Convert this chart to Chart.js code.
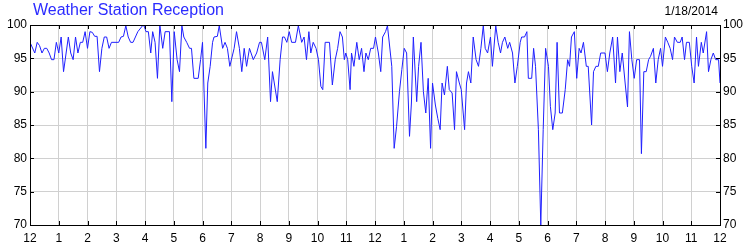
<!DOCTYPE html>
<html lang="en">
<head>
    <meta charset="UTF-8">
    <title>Weather Station Reception</title>
    <script src="https://cdn.jsdelivr.net/npm/chart.js"></script>
    <style>
        body { margin: 0; background: #fff; }
        #chart { display: block; }
    </style>
</head>
<body>
    <canvas id="chart" width="750" height="250"></canvas>
    <script>
        // minute of day for each reading
        const minutes = [
            0, 10, 15, 20, 25, 30, 35, 40, 45, 50, 55, 60, 65, 70, 80, 85, 90, 95, 100, 105,
            110, 115, 120, 125, 130, 135, 140, 145, 150, 155, 160, 165, 170, 185, 190, 195, 200, 205, 210, 215,
            225, 235, 238, 242, 247, 252, 256, 261, 266, 271, 277, 282, 291, 296, 301, 307, 312, 317, 321, 327,
            333, 337, 342, 351, 356, 360, 367, 371, 376, 381, 384, 391, 395, 402, 407, 412, 417, 426, 431, 437,
            442, 447, 452, 458, 466, 473, 479, 483, 490, 496, 502, 506, 516, 522, 527, 531, 536, 541, 546, 554,
            560, 567, 572, 577, 582, 586, 591, 597, 602, 607, 611, 616, 625, 631, 637, 642, 647, 652, 656, 659,
            663, 668, 671, 676, 682, 687, 692, 697, 701, 706, 711, 717, 721, 727, 732, 736, 742, 746, 755, 760,
            765, 771, 776, 781, 786, 792, 796, 800, 807, 811, 816, 821, 826, 831, 836, 840, 846, 851, 856, 860,
            865, 871, 875, 881, 886, 890, 896, 900, 907, 911, 915, 920, 925, 931, 936, 941, 946, 950, 955, 961,
            965, 972, 977, 982, 986, 991, 997, 1001, 1007, 1012, 1017, 1023, 1026, 1032, 1037, 1040, 1047, 1051, 1055, 1061,
            1066, 1071, 1076, 1082, 1086, 1091, 1096, 1100, 1105, 1111, 1117, 1122, 1126, 1130, 1136, 1141, 1146, 1150, 1155, 1161,
            1165, 1172, 1176, 1181, 1186, 1191, 1200, 1205, 1210, 1216, 1222, 1226, 1231, 1236, 1242, 1247, 1251, 1256, 1261, 1266,
            1272, 1276, 1281, 1286, 1291, 1295, 1301, 1306, 1311, 1316, 1320, 1326, 1331, 1336, 1341, 1345, 1351, 1357, 1361, 1366,
            1370, 1376, 1381, 1386, 1391, 1395, 1401, 1405, 1412, 1416, 1421, 1426, 1431, 1437, 1440
        ];

        // reception percentage
        const reception = [
            97.4, 95.8, 97.4, 96.9, 95.8, 96.5, 96.5, 95.8, 94.8, 94.8, 97.4, 95.8, 98.2, 93, 98.2, 95.8, 94.8, 98.2, 95.8, 97.4,
            97.4, 99, 96.5, 99, 98.9, 98.3, 98.3, 93, 96.5, 98.2, 98.2, 96.5, 97.4, 97.4, 98.2, 98.3, 99.9, 98.2, 97.4, 97.4,
            99, 99.9, 99.9, 99, 99, 95.8, 99, 97.4, 92, 100, 96.5, 99, 99, 88.5, 99, 94.8, 93, 99.9, 98.2, 97.4,
            96.5, 96.5, 92, 92, 94.8, 97.4, 81.5, 91.3, 93.8, 97.4, 98.2, 98.3, 99.9, 96.5, 97.4, 96.5, 93.8, 96.5, 99, 96.5,
            93, 96.5, 93.8, 96.5, 94.8, 95.8, 97.4, 97.4, 94.8, 98.2, 88.5, 93, 88.5, 94.8, 98.2, 98.2, 97.4, 99, 97.4, 97.4,
            99.9, 97.4, 98.2, 94.8, 99, 95.8, 97.4, 96.5, 94.8, 90.8, 90.3, 97.4, 97.4, 91, 94.8, 96.5, 99, 98.2, 94.8, 95.8,
            94.8, 90.3, 95.8, 93.8, 97.4, 94.8, 96.5, 93, 95.8, 94.8, 96.5, 96.5, 98.2, 95.8, 93, 98.2, 99, 99.9, 93.8, 81.5,
            84.8, 90, 93.3, 96.5, 95.8, 83.3, 88.3, 98.2, 88.5, 93.8, 97.4, 90, 86.8, 92, 81.5, 91.3, 88, 86, 84.3, 91.3,
            89.5, 93.8, 90.3, 89.8, 84.3, 93, 91.3, 90.3, 84.3, 91.3, 93, 91.3, 98.2, 94.8, 93.8, 96.5, 99.9, 96.5, 95.8, 98.2,
            93.8, 99.9, 97.4, 95.8, 97.4, 98.2, 96.5, 97.4, 95.8, 91.3, 93.8, 97.4, 98.2, 98.2, 99, 92, 92, 96.5, 93.8, 84.3,
            70, 84.3, 96.5, 93.8, 87.8, 84.3, 86.8, 97.4, 86.8, 86.8, 90.3, 94.8, 93.8, 98.2, 99, 92, 96.5, 95.8, 97.4, 93.8,
            93.8, 85, 93, 93.8, 93.8, 95.8, 95.8, 93, 95.8, 98.2, 91.3, 98.2, 93, 95.8, 91.3, 87.7, 99, 94.8, 92, 94.8,
            94.8, 80.7, 93, 93, 94.8, 95.3, 96.5, 91.3, 94.8, 96.5, 93.8, 98.2, 97.4, 96.5, 94.8, 98.2, 97.4, 97.4, 98.2, 94.8,
            97.4, 97.4, 93.8, 91.3, 98.2, 93.8, 97.4, 95.8, 99, 93, 94.8, 95.8, 94.8, 94.8, 91.3
        ];

        const hourLabels = ['12', '1', '2', '3', '4', '5', '6', '7', '8', '9', '10', '11',
                            '12', '1', '2', '3', '4', '5', '6', '7', '8', '9', '10', '11', '12'];

        const chartTitle = 'Weather Station Reception';
        const chartDate = '1/18/2014';

        const FONT = 'Arial, "Liberation Sans", sans-serif';

        // frame, inner tick marks and the two header texts
        const framePlugin = {
            id: 'frame',
            afterDraw(chart) {
                const ctx = chart.ctx;
                const a = chart.chartArea;
                const xs = chart.scales.x;
                const ys = chart.scales.y;
                ctx.save();
                ctx.strokeStyle = '#000';
                ctx.lineWidth = 1;
                ctx.beginPath();
                xs.ticks.forEach(t => {
                    const px = Math.round(xs.getPixelForValue(t.value)) + 0.5;
                    ctx.moveTo(px, a.bottom); ctx.lineTo(px, a.bottom - 4);
                    ctx.moveTo(px, a.top); ctx.lineTo(px, a.top + 4);
                });
                ys.ticks.forEach(t => {
                    const py = Math.round(ys.getPixelForValue(t.value)) + 0.5;
                    ctx.moveTo(a.left, py); ctx.lineTo(a.left + 4, py);
                    ctx.moveTo(a.right, py); ctx.lineTo(a.right - 4, py);
                });
                ctx.stroke();
                ctx.strokeRect(Math.round(a.left) + 0.5, Math.round(a.top) + 0.5,
                    Math.round(a.right - a.left), Math.round(a.bottom - a.top));

                ctx.textBaseline = 'middle';
                ctx.font = '16px ' + FONT;
                ctx.fillStyle = '#2b2bff';
                ctx.textAlign = 'left';
                ctx.fillText(chartTitle, 33, 11);
                ctx.font = '12px ' + FONT;
                ctx.fillStyle = '#000';
                ctx.textAlign = 'right';
                ctx.fillText(chartDate, 718, 12);
                ctx.restore();
            }
        };

        const ctx = document.getElementById('chart').getContext('2d');
        const chart = new Chart(ctx, {
            type: 'line',
            data: {
                datasets: [{
                    label: 'Reception',
                    data: minutes.map((m, i) => ({ x: m, y: reception[i] })),
                    borderColor: '#1f1fff',
                    borderWidth: 1,
                    pointRadius: 0,
                    tension: 0,
                    fill: false
                }]
            },
            options: {
                responsive: false,
                animation: false,
                layout: { padding: { top: 25, left: 0, right: 0, bottom: 0 } },
                plugins: {
                    legend: { display: false },
                    tooltip: { enabled: false }
                },
                scales: {
                    x: {
                        type: 'linear',
                        min: 0,
                        max: 1440,
                        afterFit: s => { s.height = 25; },
                        afterBuildTicks: s => {
                            s.ticks = hourLabels.map((_, i) => ({ value: i * 60 }));
                        },
                        ticks: {
                            autoSkip: false,
                            maxRotation: 0,
                            padding: 6,
                            color: '#000',
                            font: { family: FONT, size: 12 },
                            callback: (v, i) => hourLabels[i]
                        },
                        grid: { color: '#d0d0d0', drawTicks: false },
                        border: { display: false }
                    },
                    y: {
                        position: 'left',
                        min: 70,
                        max: 100,
                        afterFit: s => { s.width = 30; },
                        ticks: {
                            stepSize: 5,
                            padding: 3,
                            color: '#000',
                            font: { family: FONT, size: 12 }
                        },
                        grid: { color: '#d0d0d0', drawTicks: false },
                        border: { display: false }
                    },
                    y2: {
                        position: 'right',
                        min: 70,
                        max: 100,
                        afterFit: s => { s.width = 30; },
                        ticks: {
                            stepSize: 5,
                            padding: 3,
                            color: '#000',
                            font: { family: FONT, size: 12 }
                        },
                        grid: { display: false, drawTicks: false },
                        border: { display: false }
                    }
                }
            },
            plugins: [framePlugin]
        });
    </script>
</body>
</html>
